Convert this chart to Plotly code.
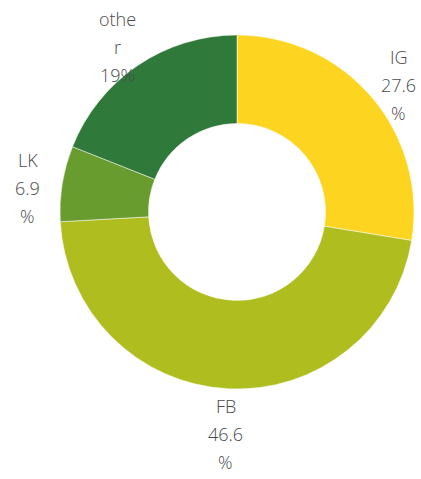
import math
import plotly.graph_objects as go

labels = ["IG", "FB", "LK", "other"]
values = [27.6, 46.6, 6.9, 19.0]
label_lines = [["IG", "27.6", "%"], ["FB", "46.6", "%"], ["LK", "6.9", "%"], ["othe", "r", "19%"]]
colors = ["#FDD520", "#AFBD1F", "#689C2F", "#2F7A3A"]

W, H = 421, 479
cx, cy, R = 237, 212, 177  # pixel geometry of the pie
r_lab, lab_dy, pitch = 212, 10, 28

fig = go.Figure(go.Pie(
    labels=labels, values=values, hole=0.5, sort=False, direction="clockwise",
    rotation=0, marker=dict(colors=colors, line=dict(color="white", width=0.5)),
    textinfo="none", hoverinfo="label+percent", showlegend=False,
    domain=dict(x=[(cx - R) / W, (cx + R) / W], y=[1 - (cy + R) / H, 1 - (cy - R) / H]),
))

total = sum(values)
acc = 0
for lines, v in zip(label_lines, values):
    mid = (acc + v / 2) / total * 2 * math.pi
    acc += v
    px = cx + r_lab * math.sin(mid)
    py = cy + lab_dy - r_lab * math.cos(mid)
    n = len(lines)
    for i, t in enumerate(lines):
        fig.add_annotation(x=px / W, y=1 - py / H, xref="paper", yref="paper",
                           text=t, showarrow=False, xanchor="center", yanchor="middle",
                           yshift=-(i - (n - 1) / 2) * pitch,
                           font=dict(family="Open Sans", size=18, color="#4a4a4a", weight=300))

fig.update_layout(width=W, height=H, margin=dict(l=0, r=0, t=0, b=0),
                  paper_bgcolor="white", plot_bgcolor="white")
fig.write_html("out.html", config={"displayModeBar": False},
               post_script="document.body.style.margin='0';")
